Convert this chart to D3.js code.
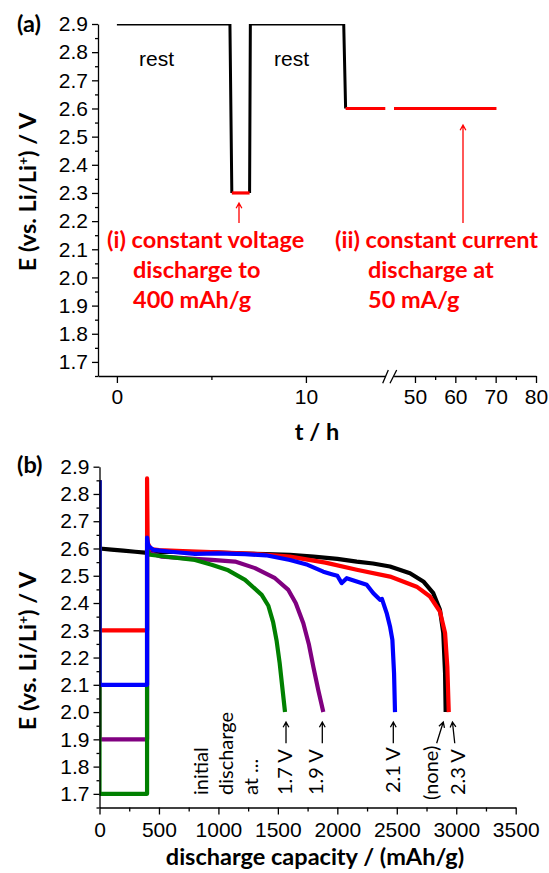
<!DOCTYPE html>
<html>
<head>
<meta charset="utf-8">
<script src="https://cdn.jsdelivr.net/npm/d3@7/dist/d3.min.js"></script>
<style>
  body { margin: 0; background: #fff; }
  svg text.tick-num { font-family: "Liberation Sans", Arial, sans-serif; }
  svg text.cal { font-family: Lato, "Open Sans", sans-serif; }
</style>
</head>
<body>
<div id="chart"></div>
<script>
'use strict';

// ---- panel (a): discharge protocol, t / h vs E / V ----
var restT1 = [0, 5.98, 6.08];
var restE1 = [2.9, 2.9, 2.3];
var cvT    = [6.08, 7.02];
var cvE    = [2.3, 2.3];
var restT2 = [7.02, 7.06, 12.0, 12.1];
var restE2 = [2.3, 2.9, 2.9, 2.6];
var ccT    = [12.1, 14.2, 44.8, 70.2];
var ccE    = [2.6, 2.6, 2.6, 2.6];

var eTicks     = [1.7, 1.8, 1.9, 2.0, 2.1, 2.2, 2.3, 2.4, 2.5, 2.6, 2.7, 2.8, 2.9];
var eMinor     = [1.65, 1.75, 1.85, 1.95, 2.05, 2.15, 2.25, 2.35, 2.45, 2.55, 2.65, 2.75, 2.85];
var tTicksLow  = [0, 10];
var tMinorLow  = [5];
var tTicksHigh = [50, 60, 70, 80];
var tMinorHigh = [55, 65, 75];

// ---- panel (b): discharge capacity / (mAh/g) vs E / V ----
var capTicks = [0, 500, 1000, 1500, 2000, 2500, 3000, 3500];
var capMinor = [250, 750, 1250, 1750, 2250, 2750, 3250];

var noneCap = [0, 100, 200, 300, 383, 500, 800, 1000, 1224, 1400, 1602, 1800, 2000, 2163, 2300, 2443, 2611, 2723, 2807, 2863, 2891, 2906, 2911];
var noneE   = [2.600, 2.596, 2.592, 2.588, 2.585, 2.588, 2.587, 2.585, 2.581, 2.579, 2.577, 2.570, 2.562, 2.552, 2.545, 2.534, 2.509, 2.479, 2.436, 2.375, 2.29, 2.143, 2.0];

var v23Cap = [0, 0, 400, 400, 405, 430, 500, 700, 1000, 1300, 1602, 1900, 2163, 2443, 2667, 2779, 2863, 2906, 2925, 2937];
var v23E   = [2.85, 2.3, 2.3, 2.857, 2.62, 2.598, 2.594, 2.59, 2.586, 2.58, 2.57, 2.548, 2.522, 2.497, 2.46, 2.424, 2.369, 2.29, 2.167, 2.0];

var v19Cap = [0, 0, 400, 400, 410, 523, 800, 943, 1140, 1308, 1476, 1588, 1650, 1714, 1760, 1798, 1840, 1882];
var v19E   = [2.85, 1.9, 1.9, 2.62, 2.585, 2.57, 2.562, 2.558, 2.552, 2.528, 2.491, 2.448, 2.40, 2.326, 2.25, 2.167, 2.08, 2.0];

var v17Cap = [0, 0, 400, 400, 410, 425, 600, 803, 943, 1083, 1224, 1364, 1420, 1460, 1490, 1515, 1540, 1560];
var v17E   = [2.85, 1.7, 1.7, 2.6, 2.585, 2.577, 2.568, 2.558, 2.54, 2.52, 2.485, 2.43, 2.39, 2.33, 2.26, 2.18, 2.08, 2.0];

var v21Cap = [0, 0, 400, 400, 410, 453, 600, 803, 1000, 1224, 1400, 1602, 1750, 1882, 1960, 2000, 2037, 2079, 2163, 2247, 2303, 2359, 2375, 2415, 2443, 2463, 2477, 2485];
var v21E   = [2.85, 2.1, 2.1, 2.64, 2.61, 2.595, 2.588, 2.58, 2.582, 2.579, 2.575, 2.558, 2.54, 2.515, 2.505, 2.50, 2.473, 2.491, 2.479, 2.467, 2.436, 2.412, 2.415, 2.363, 2.314, 2.265, 2.143, 2.0];

var seriesNames  = ["(none)", "2.3 V", "1.9 V", "1.7 V", "2.1 V"];
var seriesColors = ["#000000", "#ff0000", "#800080", "#008000", "#0000ff"];
var endCaps      = [2911, 2937, 1882, 1560, 2485];

function protocolCharts() {
    var scope = {};
    var exports = {};

    scope.w = 549;
    scope.h = 873;
    scope.calSize = 23.5;

    scope.topE  = d3.scaleLinear().domain([1.65, 2.9]).range([376, 24]);
    scope.tLow  = d3.scaleLinear().domain([-1, 14.2]).range([98, 385.3]);
    scope.tHigh = d3.scaleLinear().domain([44.7, 80]).range([393.6, 536]);

    scope.botE  = d3.scaleLinear().domain([1.65, 2.9]).range([807.5, 466.7]);
    scope.cap   = d3.scaleLinear().domain([0, 3500]).range([99.5, 515.7]);

    scope.appendSvg = function(div) {
        return d3.select(div).append("svg")
            .attr("width", scope.w)
            .attr("height", scope.h);
    };

    scope.styleAxis = function(g) {
        g.selectAll("path, line").attr("stroke", "#000").attr("stroke-width", 1.3);
        g.selectAll("text").attr("class", "tick-num").attr("font-size", 21).attr("fill", "#000");
        g.attr("font-family", null).attr("font-size", null);
    };

    scope.yAxis = function(svg, y, x0) {
        var major = svg.append("g").attr("transform", "translate(" + x0 + ",0)")
            .call(d3.axisLeft(y).tickValues(eTicks).tickFormat(d3.format(".1f"))
                .tickSize(6).tickPadding(4).tickSizeOuter(0));
        scope.styleAxis(major);
        var minor = svg.append("g").attr("transform", "translate(" + x0 + ",0)")
            .call(d3.axisLeft(y).tickValues(eMinor).tickFormat("").tickSize(3).tickSizeOuter(0));
        minor.select(".domain").remove();
        scope.styleAxis(minor);
    };

    scope.xAxis = function(svg, x, y0, ticks, minorTicks, pad) {
        var major = svg.append("g").attr("transform", "translate(0," + y0 + ")")
            .call(d3.axisBottom(x).tickValues(ticks).tickFormat(d3.format("d"))
                .tickSize(7).tickPadding(pad).tickSizeOuter(0));
        scope.styleAxis(major);
        var minor = svg.append("g").attr("transform", "translate(0," + y0 + ")")
            .call(d3.axisBottom(x).tickValues(minorTicks).tickFormat("").tickSize(4).tickSizeOuter(0));
        minor.select(".domain").remove();
        scope.styleAxis(minor);
    };

    scope.clip = function(svg, id, x0, x1, y0, y1) {
        svg.append("clipPath").attr("id", id).append("rect")
            .attr("x", x0).attr("y", y0).attr("width", x1 - x0).attr("height", y1 - y0);
    };

    scope.arrow = function(g, x1, y1, x2, y2, color) {
        var a = Math.atan2(y2 - y1, x2 - x1), L = 6, s = 0.5;
        g.append("path")
            .attr("d", "M" + x1 + "," + y1 + "L" + x2 + "," + y2 +
                "M" + (x2 - L * Math.cos(a - s)) + "," + (y2 - L * Math.sin(a - s)) +
                "L" + x2 + "," + y2 +
                "L" + (x2 - L * Math.cos(a + s)) + "," + (y2 - L * Math.sin(a + s)))
            .attr("fill", "none").attr("stroke", color).attr("stroke-width", 1.3);
    };

    scope.calText = function(g, x, y, str, size, weight, color) {
        return g.append("text").attr("class", "cal")
            .attr("x", x).attr("y", y)
            .attr("font-size", size).attr("font-weight", weight)
            .attr("fill", color || "#000")
            .text(str);
    };

    scope.eLabel = function(svg, x, y) {
        var t = svg.append("text").attr("class", "cal")
            .attr("transform", "translate(" + x + "," + y + ") rotate(-90)")
            .attr("text-anchor", "middle")
            .attr("font-size", scope.calSize).attr("font-weight", 700);
        t.append("tspan").text("E (vs. Li/Li");
        t.append("tspan").attr("font-size", 14).attr("dy", -8).text("+");
        t.append("tspan").attr("dy", 8).text(") / V");
    };

    // panel (a)
    scope.drawTop = function(svg) {
        scope.clip(svg, "clipA", 98, 536, 24, 376);
        var plot = svg.append("g").attr("clip-path", "url(#clipA)");

        var lineLow = d3.line().x(function(d) { return scope.tLow(d[0]); })
            .y(function(d) { return scope.topE(d[1]); });
        var lineHigh = d3.line().x(function(d) { return scope.tHigh(d[0]); })
            .y(function(d) { return scope.topE(d[1]); });

        var zip = function(a, b) { return a.map(function(v, i) { return [v, b[i]]; }); };

        plot.append("path").attr("d", lineLow(zip(restT1, restE1)))
            .attr("fill", "none").attr("stroke", "#000").attr("stroke-width", 3);
        plot.append("path").attr("d", lineLow(zip(restT2, restE2)))
            .attr("fill", "none").attr("stroke", "#000").attr("stroke-width", 3);
        plot.append("path").attr("d", lineLow(zip(cvT, cvE)))
            .attr("fill", "none").attr("stroke", "#ff0000").attr("stroke-width", 3.2);

        var cc = zip(ccT, ccE);
        plot.append("path").attr("d", lineLow(cc.filter(function(d) { return d[0] <= 14.2; })))
            .attr("fill", "none").attr("stroke", "#ff0000").attr("stroke-width", 3.2);
        plot.append("path").attr("d", lineHigh(cc.filter(function(d) { return d[0] >= 44.7; })))
            .attr("fill", "none").attr("stroke", "#ff0000").attr("stroke-width", 3.2);

        scope.yAxis(svg, scope.topE, 98);
        scope.xAxis(svg, scope.tLow, 376, tTicksLow, tMinorLow, 6);
        scope.xAxis(svg, scope.tHigh, 376, tTicksHigh, tMinorHigh, 6);

        // axis break
        svg.append("path").attr("d", "M382.7,383.3L388.3,370M390,383.3L396.7,370")
            .attr("stroke", "#000").attr("stroke-width", 1.3).attr("fill", "none");

        svg.append("text").attr("class", "tick-num").attr("x", 139).attr("y", 66)
            .attr("font-size", 21).text("rest");
        svg.append("text").attr("class", "tick-num").attr("x", 274).attr("y", 66)
            .attr("font-size", 21).text("rest");

        var red = "#ff0000", fs = scope.calSize;
        scope.arrow(svg, 239, 223, 239, 203, red);
        scope.arrow(svg, 463, 223, 463, 125, red);
        scope.calText(svg, 107, 248, "(i) constant voltage", fs, 700, red);
        scope.calText(svg, 133, 278, "discharge to", fs, 700, red);
        scope.calText(svg, 133, 308, "400 mAh/g", fs, 700, red);
        scope.calText(svg, 335, 248, "(ii) constant current", fs, 700, red);
        scope.calText(svg, 368, 278, "discharge at", fs, 700, red);
        scope.calText(svg, 368, 308, "50 mA/g", fs, 700, red);

        scope.calText(svg, 317, 440, "t / h", fs, 700).attr("text-anchor", "middle");
        scope.calText(svg, 17, 32, "(a)", fs, 700);
        scope.eLabel(svg, 36, 192);
    };

    // panel (b)
    scope.drawBottom = function(svg) {
        scope.clip(svg, "clipB", 99.5, 515.7, 466.7, 807.5);
        var plot = svg.append("g").attr("clip-path", "url(#clipB)");

        var line = d3.line().x(function(d) { return scope.cap(d[0]); })
            .y(function(d) { return scope.botE(d[1]); });

        var caps = [noneCap, v23Cap, v19Cap, v17Cap, v21Cap];
        var es   = [noneE, v23E, v19E, v17E, v21E];
        caps.forEach(function(c, k) {
            var pts = c.map(function(v, i) { return [v, es[k][i]]; });
            plot.append("path").attr("d", line(pts))
                .attr("fill", "none").attr("stroke", seriesColors[k])
                .attr("stroke-width", 4.2).attr("stroke-linejoin", "round");
        });

        scope.yAxis(svg, scope.botE, 99.5);
        scope.xAxis(svg, scope.cap, 807.5, capTicks, capMinor, 7.5);

        // "initial discharge at ..."
        var note = ["initial", "discharge", "at ..."];
        note.forEach(function(s, i) {
            svg.append("text").attr("class", "cal")
                .attr("transform", "translate(" + (208 + i * 25) + ",795) rotate(-90)")
                .attr("font-size", 20).text(s);
        });

        // end-of-discharge labels with arrows (offsets in px from curve end)
        var tipDx  = [-2.4, 3.7, -1, 1, -1.7];
        var tailDx = [-9, 6, -1, 1, -1.7];
        var textDx = [-7.7, 16, 0, 7, 5];
        var textY  = [800, 795, 795, 795, 793];
        seriesNames.forEach(function(name, k) {
            var x = scope.cap(endCaps[k]);
            scope.arrow(svg, x + tailDx[k], 743.3, x + tipDx[k], 722, "#000");
            svg.append("text").attr("class", "cal")
                .attr("transform", "translate(" + (x + textDx[k]) + "," + textY[k] + ") rotate(-90)")
                .attr("font-size", 20).text(name);
        });

        scope.calText(svg, 315, 865, "discharge capacity / (mAh/g)", scope.calSize, 700).attr("text-anchor", "middle");
        scope.calText(svg, 17, 473, "(b)", scope.calSize, 700);
        scope.eLabel(svg, 36, 651);
    };

    exports.run = function(div) {
        var svg = scope.appendSvg(div);
        scope.drawTop(svg);
        scope.drawBottom(svg);
    };
    return exports;
}

protocolCharts().run("#chart");
</script>
</body>
</html>
